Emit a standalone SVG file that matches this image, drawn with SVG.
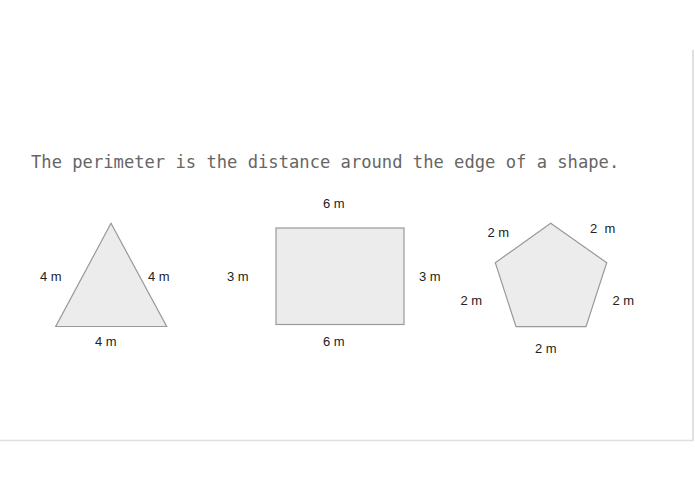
<svg xmlns="http://www.w3.org/2000/svg" width="695" height="494" viewBox="0 0 695 494">
<style>
.shape{fill:#ececec;stroke:#999;stroke-width:1.2}
.lbl{font-family:"Liberation Sans",Arial,sans-serif;font-size:13px;fill:#222}
.title{font-family:"DejaVu Sans Mono",monospace;font-size:17.15px;fill:#666}
</style>
<rect width="695" height="494" fill="#fff"/>
<g id="frame">
<line x1="0" y1="440.5" x2="693" y2="440.5" stroke="#e0e0e0" stroke-width="1.5"/>
<line x1="693" y1="50" x2="693" y2="441" stroke="#e0e0e0" stroke-width="2"/>
</g>
<text id="title" class="title" x="31" y="168">The perimeter is the distance around the edge of a shape.</text>
<g id="triangle">
<polygon class="shape" points="111,223.3 55.7,326.5 166.7,326.5"/>
<text class="lbl" x="40" y="281">4 m</text>
<text class="lbl" x="148" y="281">4 m</text>
<text class="lbl" x="95" y="346">4 m</text>
</g>
<g id="rectangle">
<rect class="shape" x="276" y="228" width="128" height="96.5"/>
<text class="lbl" x="323" y="208">6 m</text>
<text class="lbl" x="227" y="281">3 m</text>
<text class="lbl" x="419" y="281">3 m</text>
<text class="lbl" x="323" y="346">6 m</text>
</g>
<g id="pentagon">
<polygon class="shape" points="550.7,223.3 606.7,262.7 586,326.7 516,326.7 495.3,262.7"/>
<text class="lbl" x="487.5" y="237">2 m</text>
<text class="lbl" x="590" y="232.5" xml:space="preserve">2  m</text>
<text class="lbl" x="460.5" y="304.5">2 m</text>
<text class="lbl" x="612.5" y="304.5">2 m</text>
<text class="lbl" x="535" y="353">2 m</text>
</g>
</svg>
